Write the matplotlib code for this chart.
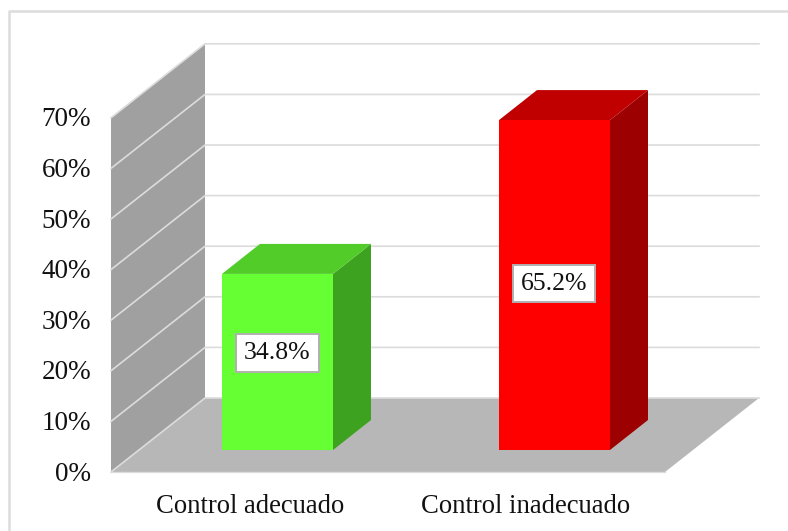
import matplotlib
matplotlib.use("Agg")
import matplotlib.pyplot as plt
from matplotlib.patches import Polygon

plt.rcParams['font.family'] = ['Liberation Serif', 'DejaVu Serif']

categories = ["Control adecuado", "Control inadecuado"]
values = [34.8, 65.2]
ticks = [0, 10, 20, 30, 40, 50, 60, 70]
tick_labels = ["0%", "10%", "20%", "30%", "40%", "50%", "60%", "70%"]

front_colors = ["#66ff33", "#ff0000"]
side_colors = ["#3da21f", "#9d0000"]
top_colors = ["#52cc29", "#c00000"]

# horizontal units are pixels, vertical units are percent
PX = 5.06
W, H = 788, 531
Y0 = 472

fig = plt.figure(figsize=(W / 100, H / 100), dpi=100)
ax = fig.add_axes([0, 0, 1, 1])
ax.set_xlim(0, W)
ax.set_ylim(-(H - Y0) / PX, Y0 / PX)
ax.axis('off')

# depth of the box and of the bars, as offsets on screen
box_dx, box_dy = 94, 74 / PX
bar_dx, bar_dy = 38, 30 / PX
left, right = 111, 665
top = ticks[-1]

grid = "#dcdcdc"

# outer frame
ax.plot([9, 9, W], [-(H - Y0) / PX, (Y0 - 11) / PX, (Y0 - 11) / PX], color="#dcdcdc", lw=1.8, zorder=1)

# side wall and floor
ax.add_patch(Polygon([(left, 0), (left + box_dx, box_dy), (left + box_dx, top + box_dy), (left, top)],
                     fc="#a0a0a0", ec="none", zorder=2))
ax.add_patch(Polygon([(left, 0), (left + box_dx, box_dy), (right + box_dx, box_dy), (right, 0)],
                     fc="#b7b7b7", ec="none", zorder=2))

# gridlines run along the wall and the back
for t in ticks:
    ax.plot([left, left + box_dx, right + box_dx], [t, t + box_dy, t + box_dy], color=grid, lw=1.2, zorder=3)
ax.plot([left, right], [0, 0], color=grid, lw=1.0, zorder=3)

# bars
bar_lefts = [222, 499]
bar_width = 111
base = 22 / PX
label_heights = [19.2, 32.9]
label_x = [277.5, 554]
cat_x = [250, 526]
for i, v in enumerate(values):
    x0 = bar_lefts[i]
    x1 = x0 + bar_width
    ax.add_patch(Polygon([(x1, base), (x1 + bar_dx, base + bar_dy), (x1 + bar_dx, v + base + bar_dy), (x1, v + base)],
                         fc=side_colors[i], ec="none", zorder=4))
    ax.add_patch(Polygon([(x0, v + base), (x0 + bar_dx, v + base + bar_dy), (x1 + bar_dx, v + base + bar_dy), (x1, v + base)],
                         fc=top_colors[i], ec="none", zorder=4))
    ax.add_patch(Polygon([(x0, base), (x0, v + base), (x1, v + base), (x1, base)],
                         fc=front_colors[i], ec="none", zorder=5))
    ax.text(label_x[i], base + label_heights[i], "%.1f%%" % v, fontsize=18.5, color="#111111", ha='center', va='center', zorder=6,
            bbox=dict(boxstyle="square,pad=0.3", fc="white", ec="#b0b0b0", lw=1.4))

tick_shift = -0.4
for t, lab in zip(ticks, tick_labels):
    ax.text(91, t + tick_shift, lab, fontsize=19.5, color="#111111", ha='right', va='center', zorder=6)

for i, c in enumerate(categories):
    ax.text(cat_x[i], -(506.5 - Y0) / PX, c, fontsize=19.2, color="#111111", ha='center', va='center', zorder=6)

fig.savefig("out.png", dpi=100)
